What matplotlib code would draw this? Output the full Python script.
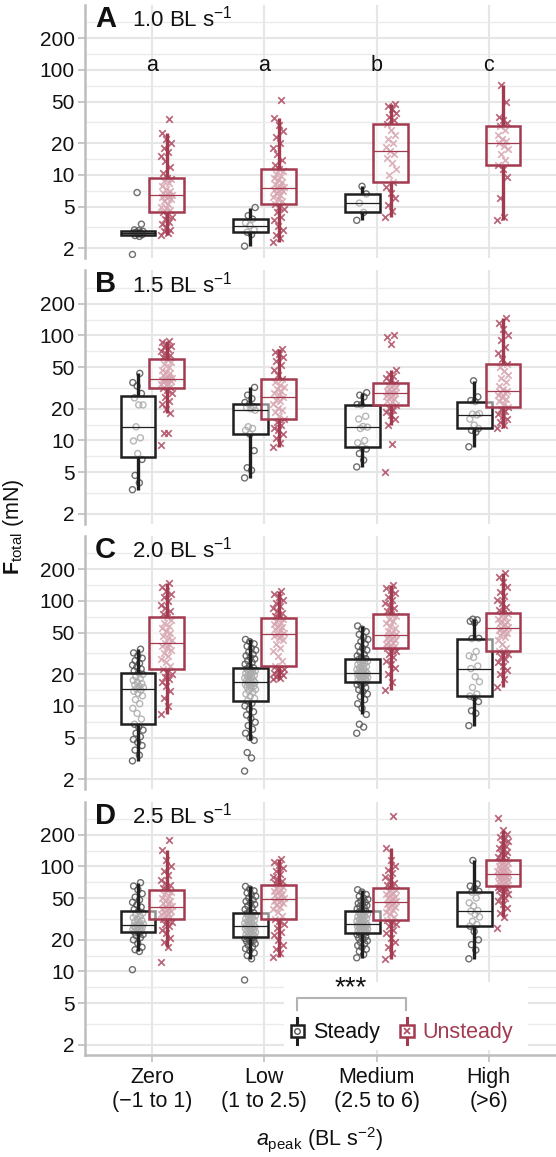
import numpy as np
import matplotlib.pyplot as plt
from matplotlib import cbook
from matplotlib.lines import Line2D
from matplotlib.patches import Rectangle
from matplotlib.legend_handler import HandlerBase
from matplotlib.ticker import NullFormatter

plt.rcParams['font.family'] = ['Liberation Sans', 'DejaVu Sans']
plt.rcParams['mathtext.fontset'] = 'custom'
plt.rcParams['mathtext.rm'] = 'Liberation Sans'
plt.rcParams['mathtext.it'] = 'Liberation Sans:italic'
plt.rcParams['mathtext.bf'] = 'Liberation Sans:bold'

# categories / labels
categories = ['Zero\n(\u22121 to 1)', 'Low\n(1 to 2.5)', 'Medium\n(2.5 to 6)', 'High\n(>6)']
speeds = ['1.0', '1.5', '2.0', '2.5']
tags = ['A', 'B', 'C', 'D']
letters = ['a', 'a', 'b', 'c']
yticks = [2, 5, 10, 20, 50, 100, 200]

# F_total (mN), one list per acceleration category (Zero, Low, Medium, High)
a_steady = [
    [1.75, 2.6, 2.65, 2.7, 2.75, 2.8, 2.82, 2.85, 2.9, 2.95, 3.0, 3.4, 6.8],
    [2.1, 2.7, 2.85, 3.0, 3.3, 3.5, 3.8, 4.1, 4.9],
    [3.7, 4.4, 5.4, 6.6, 7.8],
    [],
]
a_unsteady = [
    [2.7, 2.8, 2.9, 3.0, 3.2, 3.4, 3.6, 3.8, 4.0, 4.2, 4.4, 4.6, 4.8, 5.0, 5.3, 5.6, 5.9, 6.1, 6.2, 6.3,
     6.4, 6.5, 6.6, 6.8, 7.0, 7.4, 7.8, 8.3, 8.8, 9.1, 9.4, 10.5, 12, 13.5, 15, 16.5, 18, 20, 22, 25, 34],
    [2.3, 2.5, 2.7, 3.0, 3.3, 3.7, 4.0, 4.4, 4.7, 5.0, 5.3, 5.6, 5.9, 6.2, 6.5, 6.8, 7.0, 7.1, 7.2, 7.4,
     7.5, 7.7, 7.9, 8.2, 8.5, 8.9, 9.3, 9.8, 10.3, 10.9, 11.4, 12.5, 14, 16, 18, 20, 23, 26, 30, 35, 52],
    [4.0, 4.5, 5.2, 6.0, 6.8, 7.6, 8.5, 10, 11.5, 13, 14.5, 16, 17, 18.5, 20, 22, 24, 27, 30.6, 33,
     36, 39, 42, 45, 47.5],
    [3.7, 4.0, 6.0, 9.5, 11.5, 12.5, 14, 16, 17.5, 19, 20.3, 21, 22, 24, 27, 29.3, 31, 33, 36, 50, 72],
]
b_steady = [
    [3.4, 3.95, 4.65, 6.6, 7.5, 9.9, 10.6, 13.5, 21.8, 21.8, 25.4, 28, 33, 35.6, 43.5],
    [4.4, 5.2, 5.5, 8.0, 11.5, 12.5, 13, 13.5, 19.4, 20, 20.5, 21, 22.1, 23, 25, 27, 32],
    [5.6, 6.5, 7.5, 8.3, 8.7, 9.5, 10, 13, 13.4, 13.6, 16, 17, 21.8, 22, 26, 27, 28.5],
    [8.7, 12, 12.5, 13, 14, 16, 17.5, 17.8, 18, 23.4, 24, 26, 37],
]
b_unsteady = [
    [9.1, 11.9, 11.9, 18.4, 20, 22, 24, 26, 28, 30, 31.4, 32.5, 33.5, 34.5, 35.5, 36.5, 37, 37.5, 38, 38.4,
     38.8, 39.5, 40.5, 42, 43.5, 45, 47, 50, 53, 56, 59, 62, 65, 68, 71, 74, 77, 80, 83, 86, 88.7],
    [8.7, 9.5, 10.5, 11.5, 12.5, 13, 14, 15, 15.9, 17, 18.5, 19.5, 20.5, 22, 23.5, 24.5, 25.9, 27, 28, 29.5,
     31, 32.5, 34, 36, 38.3, 42, 47, 52, 57, 62, 66, 70, 74],
    [5.0, 9.3, 14.1, 16, 17.5, 18.5, 19.5, 20.5, 21.8, 23, 24, 25, 26, 26.5, 27, 28, 28.5, 29, 29.5, 30,
     31, 32, 33, 34, 35.5, 37, 39, 41, 43, 46.6, 82, 96, 102],
    [13.2, 14, 15, 16, 17, 18, 19, 20, 20.8, 22, 23.5, 25, 26, 27, 28, 29, 29.6, 31, 33, 36,
     39, 42, 46, 50, 54, 60, 68, 78, 90, 100, 115, 130, 148],
]
c_steady = [
    [3.0, 3.4, 3.8, 4.2, 4.5, 4.8, 5.1, 5.5, 5.9, 6.3, 6.7, 7.5, 8.5, 9.5, 10.5, 11.5, 12.5, 13.2, 13.8, 14.2,
     14.6, 15, 15.4, 15.8, 16.3, 16.8, 17.5, 18.3, 19, 20, 20.7, 21.5, 22.5, 23.5, 24.5, 25.5, 27, 28.5, 30, 32, 34.7],
    [2.4, 3.2, 3.6, 4.7, 5.0, 5.5, 6.0, 6.5, 7.0, 7.6, 8.2, 8.8, 9.4, 10.0, 10.6, 11.2,
     11.8, 12.4, 13.0, 13.5, 14.0, 14.4, 14.8, 15.2, 15.5, 15.8, 16.1, 16.4, 16.6, 16.8, 17,
     17.3, 17.6, 18.0, 18.4, 18.8, 19.2, 19.6, 20.0, 20.4, 20.8, 21.2, 21.6, 22.0, 22.5, 23,
     24, 25, 26, 27, 28, 29, 30, 31, 32.5, 34, 35.5, 37, 39, 41, 43],
    [5.5, 6.3, 6.7, 8.3, 9.5, 10.5, 11.5, 12.3, 13.0, 13.7, 14.3, 14.9, 15.5, 16.0, 16.5, 16.9,
     17.2, 17.5, 17.8, 18.1, 18.4, 18.7, 19.0, 19.3, 19.6, 19.8, 20.0, 20.2, 20.4, 20.55, 20.7,
     21.0, 21.4, 21.8, 22.2, 22.7, 23.2, 23.7, 24.2, 24.8, 25.4, 26.0, 26.6, 27.2, 27.7, 28.2,
     29, 30, 31, 32.5, 34, 35.5, 37, 39, 41, 43, 45, 48, 51, 54, 57.8],
    [6.5, 8.5, 9.0, 11, 12, 12.4, 13, 15, 17, 19, 22.7, 24, 29, 30, 33, 43.8, 44, 62, 64, 66, 67],
]
c_unsteady = [
    [8.3, 10, 12, 14, 15.5, 17, 18, 19, 20, 21.2, 22.4, 24, 26, 28, 30, 32, 34, 35.5, 37, 38.5,
     40, 42, 44, 46, 49, 52, 55, 58, 62, 66, 70.4, 75, 80, 86, 92, 100, 108, 116, 125, 136, 149],
    [18, 18.5, 19, 19.5, 20, 20.5, 21, 22, 22.5, 23.2, 24, 27, 30, 33, 36, 39, 42, 44, 46, 47,
     48.2, 50, 52, 54, 56, 58, 60, 62, 65, 67, 69.4, 72, 76, 80, 85, 90, 96, 102, 108, 116, 124.5],
    [14.1, 17, 20, 23, 25, 27, 29, 31, 33, 34.3, 35.4, 36.5, 37.5, 38.5, 39.5, 40.5, 42, 43, 44.5, 46,
     47, 48.5, 50, 52, 55, 58, 61, 64, 68, 72, 75.7, 80, 85, 90, 96, 102, 110, 118, 126, 134, 142],
    [15, 18, 20, 22, 24, 26, 28, 29.5, 31, 32.3, 33.4, 36, 39, 42, 45, 47, 49, 51, 53, 54.5,
     55.7, 57, 59, 61, 63, 65, 67, 70, 72.5, 75, 77.4, 82, 88, 95, 103, 112, 122, 135, 150, 168, 186],
]
d_steady = [
    [10.4, 15.5, 16.1, 17, 18.5, 20, 21, 22, 22.5, 23.1, 23.7, 24.2, 24.7, 25.1, 25.5, 26, 26.4, 26.8, 27.1, 27.5,
     27.8, 28.3, 29, 29.8, 30.6, 31.5, 32.5, 33.5, 34.7, 36, 37.5, 39, 41, 43, 45.5, 48, 51, 55, 60, 65, 70],
    [8.3, 13.2, 14.2, 15, 15.8, 16.5, 17.2, 17.8, 18.4, 18.9, 19.4, 19.8, 20.2, 20.6, 20.9, 21.2,
     21.6, 22, 22.4, 22.8, 23.2, 23.6, 24, 24.4, 24.8, 25.2, 25.6, 26, 26.3, 26.6, 26.8,
     27.2, 27.7, 28.2, 28.8, 29.4, 30, 30.6, 31.2, 31.8, 32.5, 33.2, 34, 34.8, 35.5, 36.2,
     37.5, 39, 40.5, 42, 43.5, 45, 46.5, 48, 50, 52, 54, 56, 58.5, 61, 64.5],
    [13.5, 14.5, 15.5, 16.3, 17, 17.7, 18.4, 19, 19.6, 20.2, 20.8, 21.4, 21.9, 22.4, 22.8, 23.2,
     23.6, 24, 24.4, 24.8, 25.1, 25.4, 25.7, 26, 26.3, 26.6, 26.9, 27.2, 27.5, 27.8, 28,
     28.4, 28.9, 29.4, 30, 30.6, 31.2, 31.8, 32.4, 33, 33.7, 34.4, 35.1, 35.8, 36.6, 37.5,
     38.5, 39.5, 40.5, 41.5, 42.5, 43.5, 44.5, 45.5, 47, 48.5, 50, 52, 54, 57, 60],
    [13.2, 16, 18, 20, 24, 27, 28, 30, 33, 35, 37.5, 38, 42, 45, 50, 57, 58, 62, 65, 68, 114],
]
d_unsteady = [
    [12.3, 17, 19, 21, 23, 25, 27, 28.5, 29.5, 30.6, 31.7, 33, 34, 35, 36, 37, 38, 38.8, 39.5, 40.2,
     41, 42, 43.5, 45, 46.5, 48, 50, 52, 54.5, 56.8, 59, 62, 66, 70, 75, 82, 90, 100, 115, 142, 180],
    [13.7, 15, 16.5, 18, 20, 22, 24, 26, 28, 30, 31.7, 34, 36.5, 39, 41, 43, 44.5, 46, 47, 48.2,
     49.2, 50.5, 52, 53.5, 55, 56.5, 58, 60, 62, 64, 65.9, 69, 72, 76, 80, 85, 90, 96, 103, 110, 118],
    [13.2, 15, 17, 19, 21, 23, 25, 27, 28.5, 29.8, 31, 33, 35, 37, 38.5, 40, 41.5, 42.5, 43.5, 44.6,
     45.7, 47, 48.5, 50, 51.5, 53, 54.5, 56, 58, 60, 62.2, 66, 70, 75, 80, 86, 93, 102, 115, 150, 300],
    [26, 32.9, 36, 40, 44, 47, 50, 52.5, 55, 57, 59, 60.5, 62, 63, 64, 65,
     66.5, 68, 69.5, 71, 72.5, 74, 75.5, 77, 78.5, 80, 81.5, 82.5, 83.5, 84.3, 85,
     86.5, 88, 89.5, 91, 93, 95, 97, 99, 101, 103.5, 106, 108.5, 111, 113.5, 116,
     120, 124, 128, 133, 138, 144, 150, 157, 165, 173, 182, 192, 202, 220, 290],
]

steady_all = [a_steady, b_steady, c_steady, d_steady]
unsteady_all = [a_unsteady, b_unsteady, c_unsteady, d_unsteady]

# colours
steady_col = '#1f1f1f'
steady_pt = '#555555'
unsteady_col = '#a23a50'
unsteady_pt = '#ae4a61'
grid_col = '#e6e6e6'
axis_col = '#bdbdbd'

W, H = 556, 1157
fig = plt.figure(figsize=(W / 100, H / 100), dpi=100)


def draw_group(ax, vals, pos, col, ptcol, marker):
    if len(vals) == 0:
        return
    vals = np.asarray(vals, dtype=float)
    n = len(vals)
    jit = ((np.arange(n) * 0.618034) % 1 - 0.5) * 0.10
    if marker == 'o':
        ax.scatter(pos + jit, vals, s=19, marker='o', facecolors='none',
                   edgecolors=ptcol, linewidths=1.0, alpha=0.85, zorder=2)
    else:
        ax.scatter(pos + jit, vals, s=22, marker='x', c=ptcol,
                   linewidths=1.25, alpha=0.85, zorder=2)
    # box stats on log scale (as in a log10 axis)
    st = cbook.boxplot_stats(np.log10(vals), whis=1.5)[0]
    for k in ['med', 'q1', 'q3', 'whislo', 'whishi', 'mean']:
        st[k] = 10 ** st[k]
    st['fliers'] = []
    ax.bxp([st], positions=[pos], widths=0.31, showfliers=False, showcaps=False,
           patch_artist=True, manage_ticks=False, zorder=3,
           boxprops=dict(facecolor=(1, 1, 1, 0.5), edgecolor=col, linewidth=1.8),
           whiskerprops=dict(color=col, linewidth=2.4, solid_capstyle='butt'),
           medianprops=dict(color=col, linewidth=0.9))


class BoxKey:
    def __init__(self, col, ptcol, marker):
        self.col, self.ptcol, self.marker = col, ptcol, marker


class BoxKeyHandler(HandlerBase):
    def create_artists(self, legend, h, xdescent, ydescent, width, height, fontsize, trans):
        cx = width / 2 - xdescent
        cy = height / 2 - ydescent
        bw, bh = width * 0.92, height * 0.47
        wl = Line2D([cx, cx], [cy - height / 2, cy + height / 2], color=h.col, lw=2.2,
                    transform=trans)
        box = Rectangle((cx - bw / 2, cy - bh / 2), bw, bh, facecolor='white',
                        edgecolor=h.col, lw=1.8, transform=trans)
        if h.marker == 'o':
            pt = Line2D([cx], [cy], marker='o', ls='', mfc='none', mec=h.ptcol, ms=4, mew=1.0,
                        transform=trans)
        else:
            pt = Line2D([cx], [cy], marker='x', ls='', mec=h.ptcol, ms=4.5, mew=1.2,
                        transform=trans)
        return [wl, box, pt]


ax_left, ax_w = 85, 471
panel_h = 253
minor = [np.sqrt(a * b) for a, b in zip(yticks[:-1], yticks[1:])] + [200 * np.sqrt(2)]

for i in range(4):
    top = 5 + 265.5 * i
    ax = fig.add_axes([ax_left / W, 1 - (top + panel_h) / H, ax_w / W, panel_h / H])
    ax.set_xlim(-0.6, 3.6)
    ax.set_yscale('log')
    ax.set_ylim(1.62, 415)
    ax.set_yticks(yticks)
    ax.set_yticklabels([str(t) for t in yticks])
    ax.set_yticks(minor, minor=True)
    ax.yaxis.set_minor_formatter(NullFormatter())
    ax.set_xticks(range(4))
    ax.set_axisbelow(True)
    ax.grid(which='major', color=grid_col, lw=1.5)
    ax.grid(which='minor', axis='y', color='#ebebeb', lw=1.0)
    ax.tick_params(axis='y', which='major', length=5, width=1.2, color=axis_col,
                   labelsize=15, pad=2.5, labelcolor='#111111')
    ax.tick_params(axis='y', which='minor', length=0)
    for s in ['top', 'right']:
        ax.spines[s].set_visible(False)
    ax.spines['left'].set_color(axis_col)
    ax.spines['left'].set_linewidth(1.8)
    if i < 3:
        ax.spines['bottom'].set_visible(False)
        ax.tick_params(axis='x', length=0, labelbottom=False)
    else:
        ax.spines['bottom'].set_color(axis_col)
        ax.spines['bottom'].set_linewidth(1.8)
        ax.set_xticklabels(categories, linespacing=1.2)
        ax.tick_params(axis='x', length=5, width=1.2, color=axis_col, labelsize=15.5,
                       pad=4, labelcolor='#111111')

    for j in range(4):
        draw_group(ax, steady_all[i][j], j - 0.127, steady_col, steady_pt, 'o')
        draw_group(ax, unsteady_all[i][j], j + 0.127, unsteady_col, unsteady_pt, 'x')

    ty = 1 - 14 / panel_h
    ax.text((95 - ax_left) / ax_w, ty, tags[i], transform=ax.transAxes, fontsize=21,
            fontweight='bold', ha='left', va='center', color='#111111')
    ax.text((132 - ax_left) / ax_w, ty, speeds[i] + ' BL s$^{-1}$', transform=ax.transAxes,
            fontsize=16, ha='left', va='center', color='#111111')

    if i == 0:
        for j, lt in enumerate(letters):
            ax.text(j, 111, lt, fontsize=15.5, ha='center', va='center', color='#111111')

    if i == 3:
        def fx(px):
            return (px - ax_left) / ax_w

        def fy(py):
            return (top + panel_h - py) / panel_h

        ax.add_patch(Rectangle((fx(284), fy(1050)), fx(528) - fx(284), fy(982) - fy(1050),
                               transform=ax.transAxes, facecolor='white', edgecolor='none',
                               zorder=1.5))
        handles = [BoxKey(steady_col, steady_pt, 'o'), BoxKey(unsteady_col, unsteady_pt, 'x')]
        leg = ax.legend(handles, ['Steady', 'Unsteady'], handler_map={BoxKey: BoxKeyHandler()},
                        loc='center left', bbox_to_anchor=(fx(290), fy(1031)), ncol=2,
                        frameon=False, fontsize=15.5, borderpad=0, borderaxespad=0,
                        handlelength=0.68, handleheight=1.5, handletextpad=0.4,
                        columnspacing=0.9)
        leg.get_texts()[0].set_color('#111111')
        leg.get_texts()[1].set_color(unsteady_col)
        leg.set_zorder(5)
        ax.plot([fx(297), fx(297), fx(406), fx(406)], [fy(1010), fy(998), fy(998), fy(1010)],
                transform=ax.transAxes, color='#b3b3b3', lw=1.5, zorder=5, clip_on=False)
        ax.text(fx(351), fy(988), '***', transform=ax.transAxes, fontsize=20, ha='center',
                va='center', color='#111111', zorder=6)

fig.text(320 / W, 1 - 1140 / H, r'$a_{\mathrm{peak}}$ (BL s$^{-2}$)', fontsize=15.5,
         ha='center', va='center', color='#111111')
fig.text(14 / W, 1 - 527 / H, r'$\mathbf{F}_{\mathrm{total}}$ (mN)', fontsize=15.5,
         rotation=90, ha='center', va='center', color='#111111')

fig.savefig('out.png', dpi=100)
